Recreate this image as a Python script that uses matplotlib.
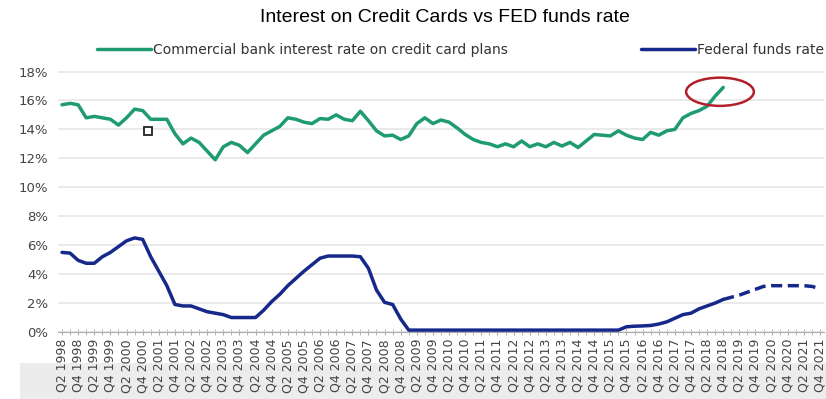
import matplotlib
matplotlib.use("Agg")
import matplotlib.pyplot as plt
from matplotlib.patches import Ellipse, Rectangle
import numpy as np

plt.rcParams["font.family"] = ["DejaVu Sans"]

# quarterly tick labels, every second quarter is labelled
tick_labels = [f"Q{q} {y}" for y in range(1998, 2022) for q in (2, 4)]

# credit card plan rate, Q2 1998 .. Q4 2018 (%)
card_rate = [15.7, 15.8, 15.7, 14.8, 14.9, 14.8, 14.7, 14.3, 14.8, 15.4,
             15.3, 14.7, 14.7, 14.7, 13.7, 13.0, 13.4, 13.1, 12.5, 11.9,
             12.8, 13.1, 12.9, 12.4, 13.0, 13.6, 13.9, 14.2, 14.8, 14.7,
             14.5, 14.4, 14.75, 14.7, 15.0, 14.7, 14.6, 15.25, 14.6, 13.9,
             13.55, 13.6, 13.3, 13.55, 14.4, 14.8, 14.4, 14.65, 14.5, 14.1,
             13.65, 13.3, 13.1, 13.0, 12.8, 13.0, 12.8, 13.2, 12.8, 13.0,
             12.8, 13.1, 12.85, 13.1, 12.75, 13.2, 13.65, 13.6, 13.55, 13.9,
             13.6, 13.4, 13.3, 13.8, 13.6, 13.9, 14.0, 14.8, 15.1, 15.3,
             15.6, 16.3, 16.9]

# federal funds rate, Q2 1998 .. Q4 2018 actual (%)
fed_actual = [5.5, 5.45, 4.95, 4.75, 4.75, 5.2, 5.5, 5.9, 6.3, 6.5,
              6.4, 5.2, 4.2, 3.2, 1.9, 1.8, 1.8, 1.6, 1.4, 1.3,
              1.2, 1.0, 1.0, 1.0, 1.0, 1.5, 2.1, 2.6, 3.2, 3.7,
              4.2, 4.65, 5.1, 5.25, 5.25, 5.25, 5.25, 5.2, 4.4, 2.9,
              2.05, 1.9, 0.9, 0.13, 0.13, 0.13, 0.13, 0.13, 0.13, 0.13,
              0.13, 0.13, 0.13, 0.13, 0.13, 0.13, 0.13, 0.13, 0.13, 0.13,
              0.13, 0.13, 0.13, 0.13, 0.13, 0.13, 0.13, 0.13, 0.13, 0.13,
              0.36, 0.4, 0.42, 0.45, 0.55, 0.7, 0.95, 1.2, 1.3, 1.6,
              1.8, 2.0, 2.25]
# projection, Q4 2018 .. Q4 2021
fed_proj = [2.25, 2.4, 2.55, 2.75, 2.95, 3.15, 3.2, 3.2, 3.2, 3.2,
            3.2, 3.15, 3.0]

green = "#1f9b72"
navy = "#16298a"

fig = plt.figure(figsize=(8.26, 3.99), dpi=100)
ax = fig.add_axes([58 / 826, 67 / 399, 766 / 826, 267 / 399])

x_card = np.arange(len(card_rate))
x_fed = np.arange(len(fed_actual))
x_proj = np.arange(len(fed_actual) - 1, len(fed_actual) - 1 + len(fed_proj))

ax.plot(x_card, card_rate, color=green, lw=2.5, solid_capstyle="round",
        label="Commercial bank interest rate on credit card plans")
ax.plot(x_fed, fed_actual, color=navy, lw=2.5, solid_capstyle="round",
        label="Federal funds rate")
ax.plot(x_proj, fed_proj, color=navy, lw=2.5, linestyle=(0, (3.2, 1.6)))

# annotations from the original picture
ax.add_patch(Ellipse((81.6, 16.6), 8.4, 1.95, fill=False,
                     edgecolor="#b3202a", lw=1.8, zorder=5))
ax.plot([10.7], [13.9], marker="s", ms=6, mfc="white", mec="#222222",
        mew=1.3, zorder=5)

ax.set_xlim(-0.5, 94.5)
ax.set_ylim(0, 18.45)
ax.set_yticks(np.arange(0, 19, 2))
ax.set_yticklabels([f"{v}%" for v in range(0, 19, 2)])
ax.yaxis.grid(True, color="#e6e6e6", lw=1.2)
ax.set_axisbelow(True)

ax.set_xticks(np.arange(0, 95, 2))
ax.set_xticklabels(tick_labels, rotation=90)
ax.set_xticks(np.arange(0, 95), minor=True)
ax.tick_params(axis="x", which="both", direction="inout", length=4,
               color="#aaaaaa", labelsize=9, labelcolor="#444444", pad=3)
ax.tick_params(axis="y", length=0, labelsize=9.5, labelcolor="#444444", pad=7)

for s in ["top", "right", "left"]:
    ax.spines[s].set_visible(False)
ax.spines["bottom"].set_color("#aaaaaa")

# grey band behind the lower part of the tick labels
fig.patches.append(Rectangle((20 / 826, 0), 1, 36 / 399, transform=fig.transFigure,
                             facecolor="#ececec", edgecolor="none", zorder=-1))

h, l = ax.get_legend_handles_labels()
leg1 = fig.legend([h[0]], [l[0]], loc="center left",
                  bbox_to_anchor=(97 / 826, 1 - 50 / 399), frameon=False,
                  borderpad=0, borderaxespad=0, handlelength=3.9,
                  handletextpad=0.15, fontsize=10)
leg2 = fig.legend([h[1]], [l[1]], loc="center right",
                  bbox_to_anchor=(824 / 826, 1 - 50 / 399), frameon=False,
                  borderpad=0, borderaxespad=0, handlelength=3.9,
                  handletextpad=0.15, fontsize=10)
for leg in (leg1, leg2):
    for t in leg.get_texts():
        t.set_color("#333333")

fig.suptitle("Interest on Credit Cards vs FED funds rate", x=445 / 826,
             y=1 - 18 / 399, va="center", fontsize=14,
             family=["Liberation Sans", "DejaVu Sans"])

fig.savefig("out.png", dpi=100)
